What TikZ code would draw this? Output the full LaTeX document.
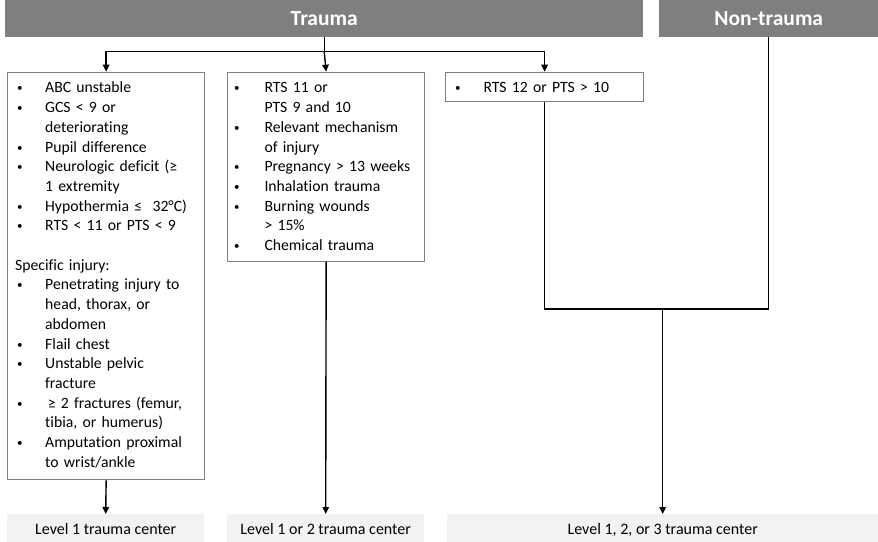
\documentclass[tikz,border=0pt]{standalone}
\usepackage{fontspec}
\setmainfont{Carlito}[Ligatures=NoCommon]
\usetikzlibrary{arrows.meta}
\definecolor{hdrgray}{HTML}{7F7F7F}
\definecolor{lvlgray}{HTML}{F2F2F2}
\definecolor{bordgray}{HTML}{808080}
\newcommand{\bi}[2]{\makebox[#1][l]{\hspace*{0.8pt}\raisebox{1pt}{\fontsize{11}{11}\selectfont •}}#2}
\newcommand{\ci}[2]{\hspace*{#1}#2}
\begin{document}
\begin{tikzpicture}[x=1pt,y=-1pt,
  hdr/.style={fill=hdrgray, text=white, font=\fontsize{21.5}{24}\selectfont\bfseries, inner sep=0, anchor=north west},
  crit/.style={draw=bordgray, line width=1.3pt, inner sep=0, anchor=north west},
  txt/.style={inner sep=0, anchor=north west, align=left, text width=200pt, font=\fontsize{15.7}{19.7}\selectfont},
  lvl/.style={fill=lvlgray, inner sep=0, anchor=north west, text height=11pt, text depth=3pt, font=\fontsize{16}{19}\selectfont},
  con/.style={line width=1.4pt},
  arr/.style={con, -{Triangle[length=7pt,width=6.5pt]}}]
\useasboundingbox (0,0) rectangle (878,541);

% headers
\node[hdr, minimum width=638, minimum height=36.5] (T) at (5,0) {Trauma};
\node[hdr, minimum width=219, minimum height=36.5] (N) at (659,0) {Non-trauma};

% criteria boxes
\node[crit, minimum width=197, minimum height=407.3] (L) at (7,71.7) {};
\node[crit, minimum width=197, minimum height=188.8] (M) at (227,71.7) {};
\node[crit, minimum width=198, minimum height=29.3] (R) at (445,71.7) {};

\node[txt] (Lt) at (16,78.7) {\rule{0pt}{14pt}\bi{29pt}{ABC unstable}\\
\bi{29pt}{GCS < 9 or}\\
\ci{29pt}{deteriorating}\\
\bi{29pt}{Pupil difference}\\
\bi{29pt}{Neurologic deficit (≥}\\
\ci{29pt}{1 extremity}\\
\bi{29pt}{Hypothermia ≤~~32°C)}\\
\bi{29pt}{RTS < 11 or PTS < 9}\\[19.7pt]
\hspace*{-1pt}Specific injury:\\
\bi{29pt}{Penetrating injury to}\\
\ci{29pt}{head, thorax, or}\\
\ci{29pt}{abdomen}\\
\bi{29pt}{Flail chest}\\
\bi{29pt}{Unstable pelvic}\\
\ci{29pt}{fracture}\\
\bi{29pt}{\,≥ 2 fractures (femur,}\\
\ci{29pt}{tibia, or humerus)}\\
\bi{29pt}{Amputation proximal}\\
\ci{29pt}{to wrist/ankle}};

\node[txt] (Mt) at (233,78.7) {\rule{0pt}{14pt}\bi{31.3pt}{RTS 11 or}\\
\ci{31.3pt}{PTS 9 and 10}\\
\bi{31.3pt}{Relevant mechanism}\\
\ci{31.3pt}{of injury}\\
\bi{31.3pt}{Pregnancy > 13 weeks}\\
\bi{31.3pt}{Inhalation trauma}\\
\bi{31.3pt}{Burning wounds}\\
\ci{31.3pt}{> 15\%}\\
\bi{31.3pt}{Chemical trauma}};

\node[txt] (Rt) at (454,78.7) {\rule{0pt}{14pt}\bi{29.3pt}{RTS 12 or PTS > 10}};

% level boxes
\node[lvl, minimum width=197, minimum height=32] (L1) at (7,514) {Level 1 trauma center};
\node[lvl, minimum width=197, minimum height=32] (L2) at (227,514) {Level 1 or 2 trauma center};
\node[lvl, minimum width=431, minimum height=32] (L3) at (447,514) {Level 1, 2, or 3 trauma center};

% connectors
\coordinate (jT) at (T.south |- 0,51.7);
\coordinate (jB) at (L3.north |- 0,309);
\draw[con] (T.south) -- (jT);
\draw[arr] (jT) -| (L.north);
\draw[arr] (jT) -| (R.north);
\draw[arr] (jT) -- (M.north);
\draw[con] (R.south) |- (jB) -| (N.south);
\draw[arr] (jB) -- (L3.north);
\draw[arr] (L.south) -- (L1.north);
\draw[arr] (M.south) -- (L2.north);
\end{tikzpicture}
\end{document}
